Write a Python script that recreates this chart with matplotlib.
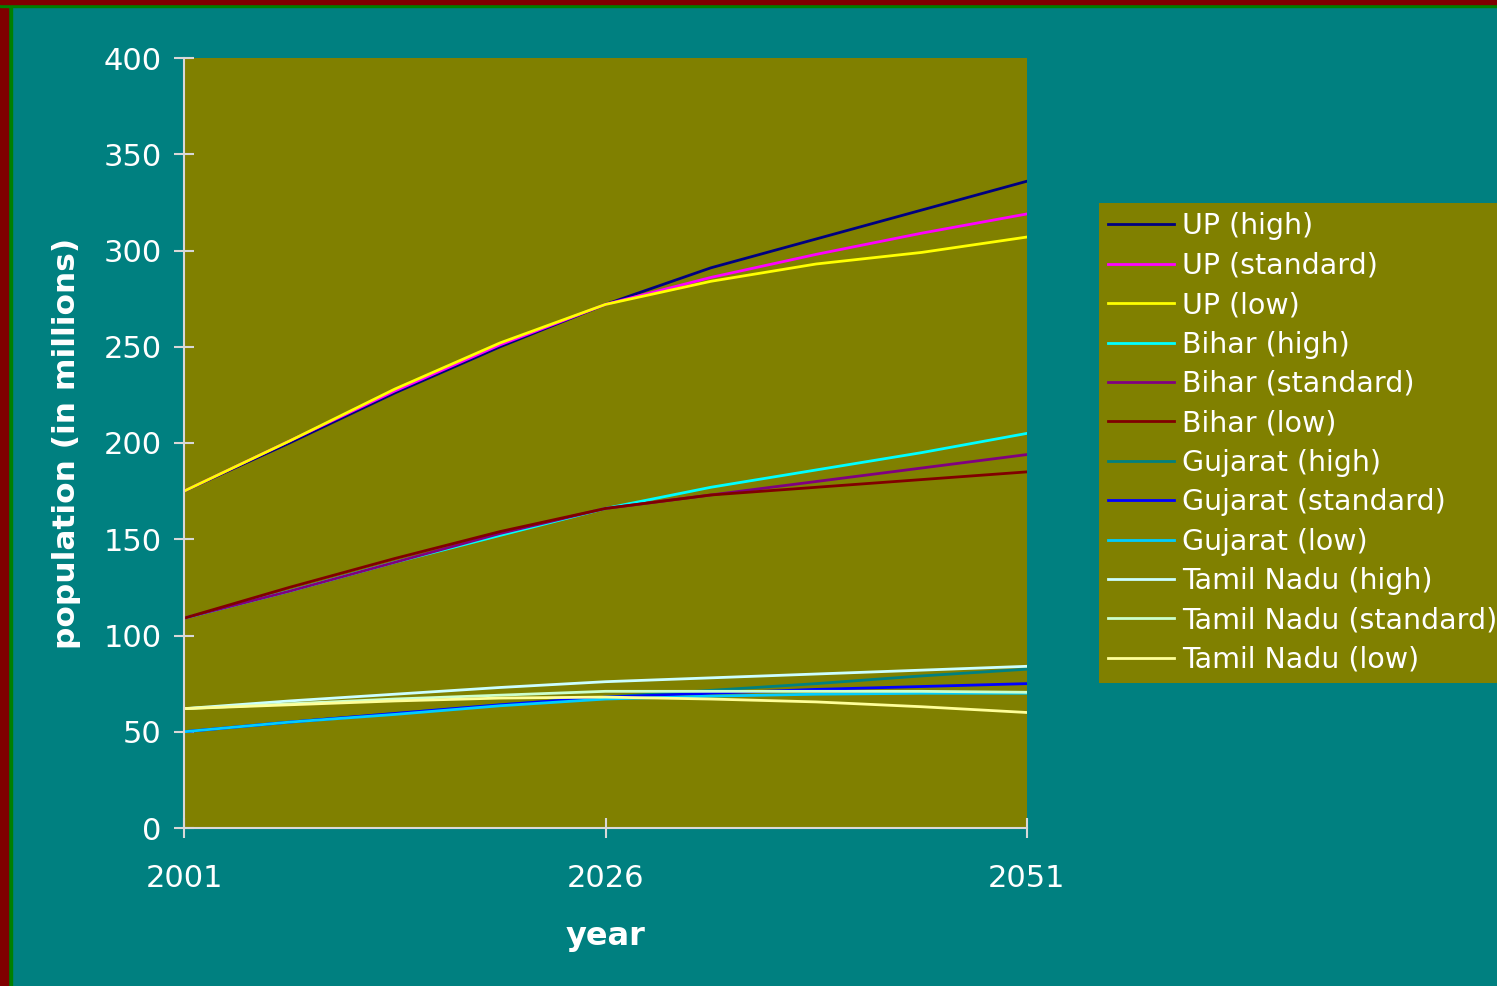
import matplotlib
matplotlib.use("Agg")
import matplotlib.pyplot as plt
from matplotlib.patches import Rectangle

# 9 projection points, evenly spaced between 2001 and 2051
steps = list(range(9))
tick_steps = [0, 4, 8]
tick_labels = ["2001", "2026", "2051"]

up_high = [175, 200, 226, 250, 272, 291, 306, 321, 336]
up_std = [175, 201, 227, 251, 272, 286, 298, 309, 319]
up_low = [175, 201, 228, 252, 272, 284, 293, 299, 307]
bihar_high = [109, 123, 138, 152, 166, 177, 186, 195, 205]
bihar_std = [109, 123, 138, 153, 166, 173, 180, 187, 194]
bihar_low = [109, 125, 140, 154, 166, 173, 177, 181, 185]
guj_high = [50, 55, 59.5, 64, 68, 71.5, 75, 79, 82.5]
guj_std = [50, 55, 59.5, 64, 68, 70, 72, 73.5, 75]
guj_low = [50, 55, 59, 63.5, 67, 68.5, 69.5, 70, 70]
tn_high = [62, 66, 69.5, 73, 76, 78, 80, 82, 84]
tn_std = [62, 64.5, 67, 69, 71, 71, 71, 71, 70.5]
tn_low = [62, 64, 66, 67.5, 68, 67, 65.5, 63, 60]

series = [
    ("UP (high)", up_high, "#000080"),
    ("UP (standard)", up_std, "#FF00FF"),
    ("UP (low)", up_low, "#FFFF00"),
    ("Bihar (high)", bihar_high, "#00FFFF"),
    ("Bihar (standard)", bihar_std, "#800080"),
    ("Bihar (low)", bihar_low, "#800000"),
    ("Gujarat (high)", guj_high, "#008080"),
    ("Gujarat (standard)", guj_std, "#0000FF"),
    ("Gujarat (low)", guj_low, "#00CCFF"),
    ("Tamil Nadu (high)", tn_high, "#CCFFFF"),
    ("Tamil Nadu (standard)", tn_std, "#CCFFCC"),
    ("Tamil Nadu (low)", tn_low, "#FFFF99"),
]

fig = plt.figure(figsize=(14.97, 9.86), dpi=100, facecolor="#008080")

# slide border strips
fig.patches.append(Rectangle((0, 0), 12 / 1497, 1, transform=fig.transFigure, color="#008000", zorder=0))
fig.patches.append(Rectangle((0, 0), 8 / 1497, 1, transform=fig.transFigure, color="#800000", zorder=0))
fig.patches.append(Rectangle((0, 1 - 7 / 986), 1, 7 / 986, transform=fig.transFigure, color="#008000", zorder=0))
fig.patches.append(Rectangle((0, 1 - 4 / 986), 1, 4 / 986, transform=fig.transFigure, color="#800000", zorder=0))

ax = fig.add_axes([184 / 1497, 158 / 986, 843 / 1497, 770 / 986])
ax.set_facecolor("#808000")

for label, vals, col in series:
    ax.plot(steps, vals, color=col, linewidth=2, label=label)

ax.set_xlim(0, 8)
ax.set_ylim(0, 400)
ax.set_xticks(tick_steps)
ax.set_xticklabels(tick_labels)
ax.set_yticks(range(0, 401, 50))

for s in ["top", "right"]:
    ax.spines[s].set_visible(False)
for s in ["left", "bottom"]:
    ax.spines[s].set_color("#D8D8D8")
    ax.spines[s].set_linewidth(1.5)

ax.tick_params(axis="both", direction="inout", length=14, width=1.5, color="#D8D8D8",
               labelcolor="white", labelsize=22)
ax.tick_params(axis="y", pad=9)
ax.tick_params(axis="x", pad=19)

ax.set_ylabel("population (in millions)", color="white", fontsize=22.5, fontweight="bold", labelpad=16)
ax.set_xlabel("year", color="white", fontsize=23, fontweight="bold", labelpad=20)

leg = fig.legend(loc="upper left", bbox_to_anchor=(1099 / 1497, 1 - 203 / 986),
                 fontsize=20.5, frameon=True, fancybox=False, facecolor="#808000",
                 edgecolor="none", framealpha=1, handlelength=2.3, handletextpad=0.3,
                 labelspacing=0.40, borderaxespad=0, borderpad=0.33)
for t in leg.get_texts():
    t.set_color("white")

fig.savefig("out.png", dpi=100, facecolor=fig.get_facecolor())
